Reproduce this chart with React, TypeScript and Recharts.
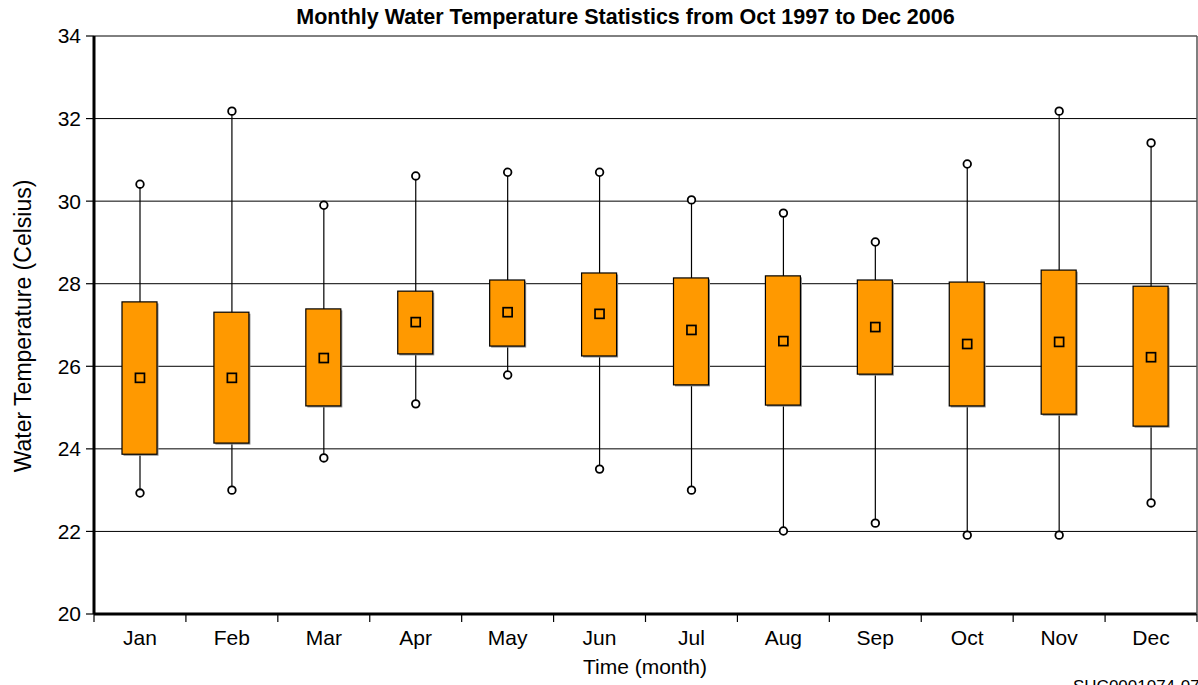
import React from 'react';
import { ComposedChart, Bar, Line, XAxis, YAxis, CartesianGrid } from 'recharts';

const months = ['Jan', 'Feb', 'Mar', 'Apr', 'May', 'Jun', 'Jul', 'Aug', 'Sep', 'Oct', 'Nov', 'Dec'];
const minVals = [22.93, 23.0, 23.78, 25.09, 25.79, 23.51, 23.0, 22.01, 22.2, 21.91, 21.91, 22.69];
const q1Vals = [23.87, 24.14, 25.04, 26.3, 26.49, 26.25, 25.55, 25.06, 25.81, 25.04, 24.84, 24.55];
const meanVals = [25.72, 25.72, 26.2, 27.07, 27.31, 27.27, 26.88, 26.61, 26.95, 26.54, 26.59, 26.22];
const q3Vals = [27.56, 27.31, 27.39, 27.82, 28.09, 28.26, 28.14, 28.19, 28.09, 28.04, 28.33, 27.94];
const maxVals = [30.41, 32.18, 29.9, 30.61, 30.7, 30.7, 30.03, 29.71, 29.01, 30.9, 32.18, 31.41];
const yTicks = [20, 22, 24, 26, 28, 30, 32, 34];

const data = months.map((m, i) => ({
  month: m,
  whisker: [minVals[i], maxVals[i]],
  box: [q1Vals[i], q3Vals[i]],
  mean: meanVals[i],
}));

const FONT = '"Liberation Sans", Arial, sans-serif';

const WhiskerShape = (props: any) => {
  const { x, y, width, height } = props;
  const cx = x + width / 2;
  const top = Math.min(y, y + height);
  const bot = Math.max(y, y + height);
  return (
    <g>
      <line x1={cx} x2={cx} y1={top} y2={bot} stroke="#000" strokeWidth={1.2} />
      <circle cx={cx} cy={top} r={3.8} fill="#fff" stroke="#000" strokeWidth={1.8} />
      <circle cx={cx} cy={bot} r={3.8} fill="#fff" stroke="#000" strokeWidth={1.8} />
    </g>
  );
};

const BoxShape = (props: any) => {
  const { x, y, width, height } = props;
  const top = Math.min(y, y + height);
  const h = Math.abs(height);
  return (
    <g>
      <rect x={x + 1.5} y={top + 1.5} width={width} height={h} fill="#8a8a8a" />
      <rect x={x} y={top} width={width} height={h} fill="#FF9900" stroke="#000" strokeWidth={1.2} />
    </g>
  );
};

const MeanDot = (props: any) => {
  const { cx, cy } = props;
  if (cx == null || cy == null) return null;
  return <rect x={cx - 4.5} y={cy - 4.5} width={9} height={9} fill="#FF9900" stroke="#000" strokeWidth={1.7} />;
};

const MonthTick = (props: any) => {
  const { x, y, payload, index } = props;
  const off = payload && payload.offset ? payload.offset : 46;
  return (
    <g>
      <line x1={x - off} x2={x - off} y1={y} y2={y + 8} stroke="#000" strokeWidth={1.2} />
      {index === months.length - 1 ? (
        <line x1={x + off} x2={x + off} y1={y} y2={y + 8} stroke="#000" strokeWidth={1.2} />
      ) : null}
      <text x={x} y={y + 31} textAnchor="middle" fontSize={21} fill="#000" fontFamily={FONT}>
        {payload.value}
      </text>
    </g>
  );
};

export default function App() {
  return (
    <div style={{ position: 'absolute', left: 0, top: 0, width: 1198, height: 685, overflow: 'hidden', background: '#fff', fontFamily: FONT }}>
      <div style={{ position: 'absolute', left: 0, width: 1251, top: 5, textAlign: 'center', fontSize: 21.5, fontWeight: 'bold', color: '#000', lineHeight: '24px', whiteSpace: 'nowrap' }}>
        Monthly Water Temperature Statistics from Oct 1997 to Dec 2006
      </div>
      <div style={{ position: 'absolute', left: 23 - 170, top: 326 - 13, width: 340, textAlign: 'center', fontSize: 23, lineHeight: '26px', transform: 'rotate(-90deg)', color: '#000', whiteSpace: 'nowrap' }}>
        Water Temperature (Celsius)
      </div>
      <div style={{ position: 'absolute', left: 645 - 100, top: 655, width: 200, textAlign: 'center', fontSize: 21, lineHeight: '24px', color: '#000' }}>
        Time (month)
      </div>
      <div style={{ position: 'absolute', left: 1073, top: 678, fontSize: 17, lineHeight: '18px', color: '#000', whiteSpace: 'nowrap' }}>
        SHC0001074-076
      </div>
      <ComposedChart
        width={1198}
        height={685}
        data={data}
        margin={{ top: 36, right: 0, bottom: 31, left: 0 }}
        style={{ position: 'absolute', left: 0, top: 0 }}
      >
        <CartesianGrid horizontal={true} vertical={false} stroke="#000" strokeWidth={1} yAxisId="left" />
        <XAxis
          xAxisId="main"
          dataKey="month"
          axisLine={{ stroke: '#000', strokeWidth: 3 }}
          tickLine={false}
          tickSize={0}
          tickMargin={0}
          height={40}
          tick={<MonthTick />}
          interval={0}
        />
        <XAxis
          xAxisId="top"
          orientation="top"
          dataKey="month"
          axisLine={{ stroke: '#000', strokeWidth: 3 }}
          tick={false}
          tickLine={false}
          height={0}
        />
        <YAxis
          yAxisId="left"
          domain={[20, 34]}
          ticks={yTicks}
          allowDataOverflow
          width={94}
          axisLine={{ stroke: '#000', strokeWidth: 3 }}
          tickLine={{ stroke: '#000', strokeWidth: 1.2 }}
          tickSize={8}
          tickMargin={5}
          tick={{ fontSize: 21, fill: '#000', fontFamily: FONT }}
        />
        <YAxis
          yAxisId="right"
          orientation="right"
          domain={[20, 34]}
          ticks={yTicks}
          width={1}
          axisLine={{ stroke: '#555', strokeWidth: 1.5 }}
          tick={false}
          tickLine={false}
        />
        <Bar
          xAxisId="top"
          yAxisId="left"
          dataKey="whisker"
          barSize={10}
          shape={<WhiskerShape />}
          isAnimationActive={false}
        />
        <Bar
          xAxisId="main"
          yAxisId="left"
          dataKey="box"
          barSize={35}
          shape={<BoxShape />}
          isAnimationActive={false}
        />
        <Line
          xAxisId="main"
          yAxisId="left"
          dataKey="mean"
          stroke="none"
          dot={<MeanDot />}
          activeDot={false}
          isAnimationActive={false}
        />
      </ComposedChart>
    </div>
  );
}
